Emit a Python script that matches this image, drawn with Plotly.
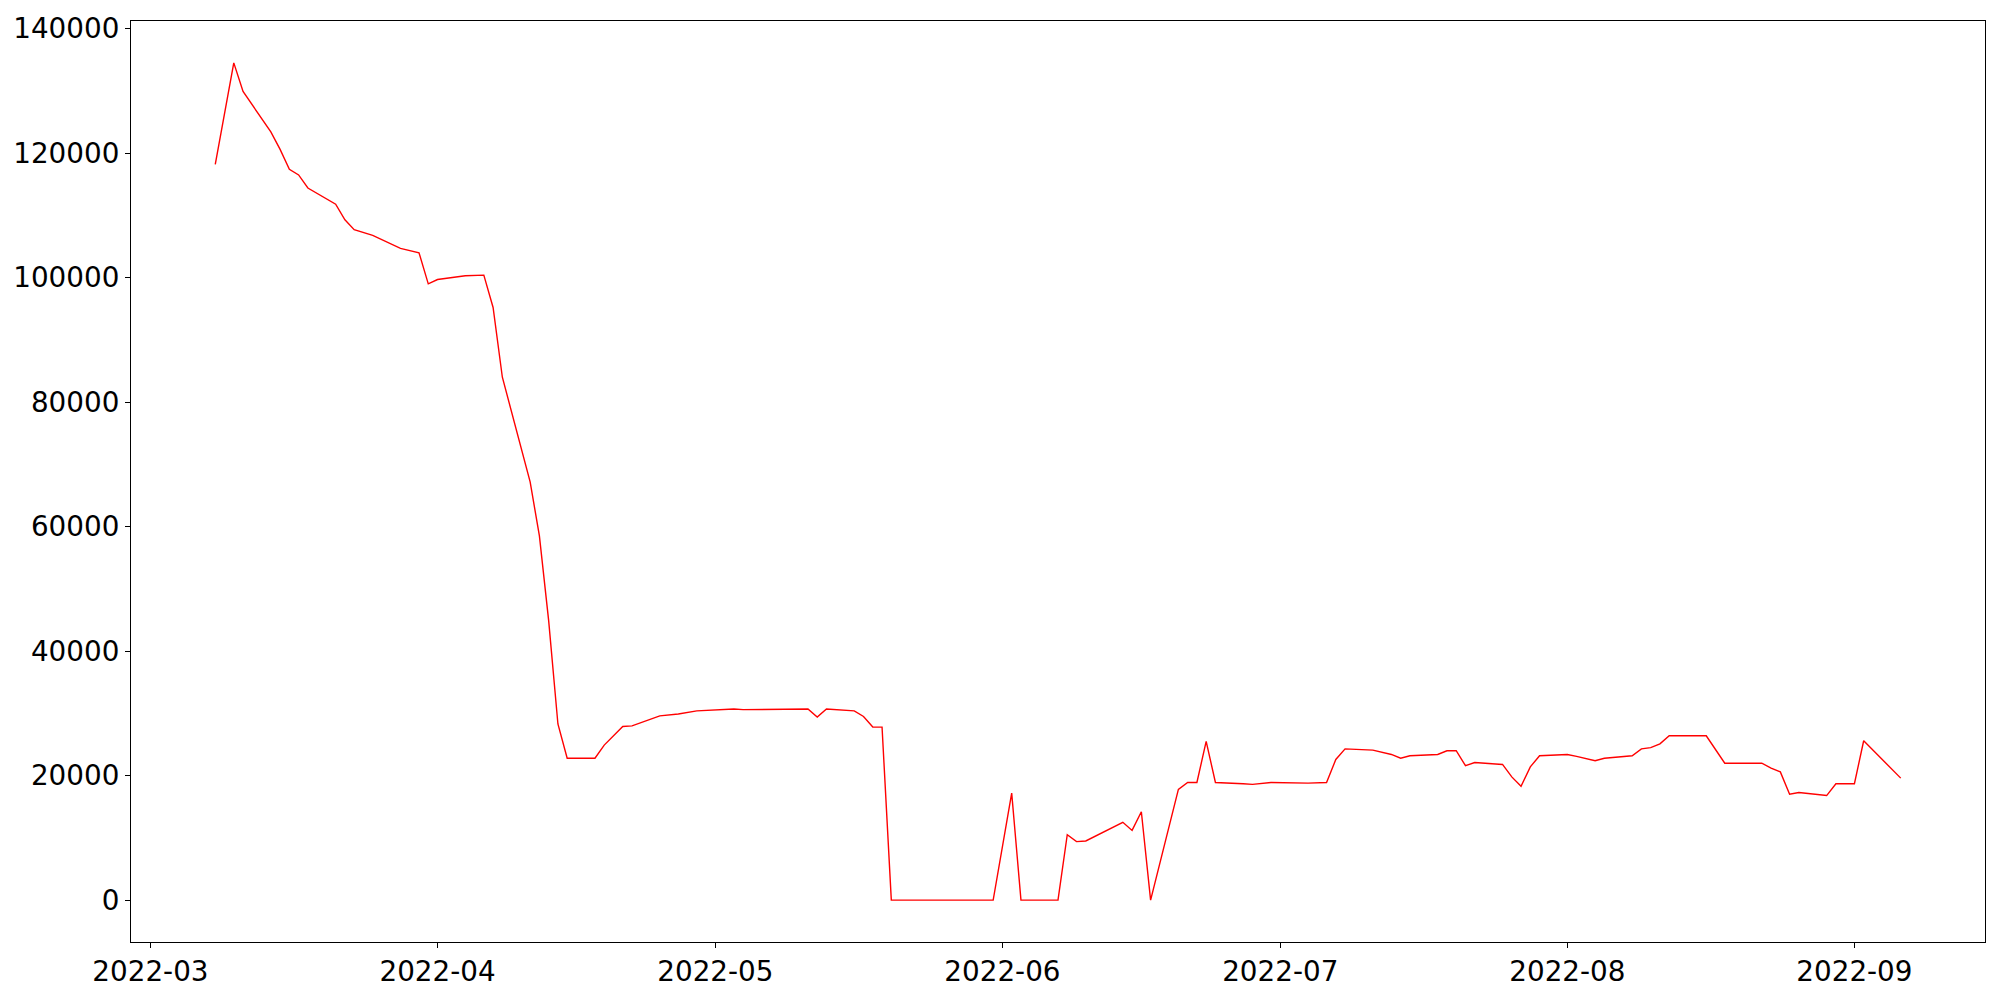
import pandas as pd
import plotly.graph_objects as go

dates = [
    "2022-03-08", "2022-03-10", "2022-03-11", "2022-03-14", "2022-03-15", "2022-03-16",
    "2022-03-17", "2022-03-18", "2022-03-21", "2022-03-22", "2022-03-23", "2022-03-25",
    "2022-03-28", "2022-03-30", "2022-03-31", "2022-04-01", "2022-04-04", "2022-04-06",
    "2022-04-07", "2022-04-08", "2022-04-11", "2022-04-12", "2022-04-13", "2022-04-14",
    "2022-04-15", "2022-04-18", "2022-04-19", "2022-04-21", "2022-04-22", "2022-04-25",
    "2022-04-27", "2022-04-29", "2022-05-03", "2022-05-04", "2022-05-11", "2022-05-12",
    "2022-05-13", "2022-05-16", "2022-05-17", "2022-05-18", "2022-05-19", "2022-05-20",
    "2022-05-31", "2022-06-02", "2022-06-03", "2022-06-07", "2022-06-08", "2022-06-09",
    "2022-06-10", "2022-06-13", "2022-06-14", "2022-06-15", "2022-06-16", "2022-06-17",
    "2022-06-20", "2022-06-21", "2022-06-22", "2022-06-23", "2022-06-24", "2022-06-27",
    "2022-06-28", "2022-06-30", "2022-07-04", "2022-07-06", "2022-07-07", "2022-07-08",
    "2022-07-11", "2022-07-13", "2022-07-14", "2022-07-15", "2022-07-18", "2022-07-19",
    "2022-07-20", "2022-07-21", "2022-07-22", "2022-07-25", "2022-07-26", "2022-07-27",
    "2022-07-28", "2022-07-29", "2022-08-01", "2022-08-02", "2022-08-03", "2022-08-04",
    "2022-08-05", "2022-08-08", "2022-08-09", "2022-08-10", "2022-08-11", "2022-08-12",
    "2022-08-16", "2022-08-18", "2022-08-22", "2022-08-23", "2022-08-24", "2022-08-25",
    "2022-08-26", "2022-08-29", "2022-08-30", "2022-09-01", "2022-09-02", "2022-09-06",
]

values = [
    118200, 134500, 129900, 123400, 120600, 117400,
    116500, 114400, 111800, 109300, 107700, 106800,
    104700, 104000, 99000, 99700, 100300, 100400,
    95200, 84000, 67200, 58500, 44900, 28300,
    22800, 22800, 24900, 27900, 28000, 29600,
    29900, 30400, 30700, 30600, 30700, 29400,
    30700, 30400, 29500, 27800, 27800, 0,
    0, 17200, 0, 0, 10500, 9400,
    9500, 11800, 12500, 11200, 14200, 0,
    17800, 18900, 18900, 25500, 18900, 18700,
    18600, 18900, 18800, 18900, 22600, 24300,
    24100, 23400, 22800, 23200, 23400, 24000,
    24000, 21600, 22100, 21800, 19800, 18300,
    21400, 23200, 23400, 23100, 22700, 22400,
    22800, 23200, 24300, 24500, 25100, 26400,
    26400, 22000, 22000, 21200, 20600, 17000,
    17300, 16800, 18700, 18700, 25600, 19600,
]

x_tick_dates = ["2022-03-01", "2022-04-01", "2022-05-01", "2022-06-01",
                "2022-07-01", "2022-08-01", "2022-09-01"]
x_tick_labels = ["2022-03", "2022-04", "2022-05", "2022-06", "2022-07", "2022-08", "2022-09"]
y_tick_vals = [0, 20000, 40000, 60000, 80000, 100000, 120000, 140000]
y_tick_labels = ["0", "20000", "40000", "60000", "80000", "100000", "120000", "140000"]

dt = pd.to_datetime(dates)
span = dt.max() - dt.min()
x_range = [dt.min() - 0.05 * span, dt.max() + 0.05 * span]
vmin, vmax = min(values), max(values)
vspan = vmax - vmin
y_range = [vmin - 0.05 * vspan, vmax + 0.05 * vspan]

fig = go.Figure()
fig.add_trace(go.Scatter(x=dt, y=values, mode="lines",
                         line=dict(color="red", width=1.4), showlegend=False))

font_size = 27.8
axis_common = dict(showline=True, mirror=True, linecolor="black", linewidth=1.1,
                   ticks="outside", ticklen=5, tickwidth=1.1, tickcolor="black",
                   showgrid=False, zeroline=False,
                   tickfont=dict(family="DejaVu Sans", size=font_size, color="black"))

fig.update_layout(
    width=2000, height=1000,
    margin=dict(l=131, r=15, t=19, b=52),
    paper_bgcolor="white", plot_bgcolor="white",
    font=dict(family="DejaVu Sans", size=font_size, color="black"),
    xaxis=dict(range=x_range, tickvals=pd.to_datetime(x_tick_dates), ticktext=x_tick_labels,
               **axis_common),
    yaxis=dict(range=y_range, tickvals=y_tick_vals, ticktext=y_tick_labels, **axis_common),
)

fig.write_html("out.html", config={"displayModeBar": False},
               post_script=("document.documentElement.style.margin='0';"
                            "document.documentElement.style.overflow='hidden';"
                            "document.body.style.margin='0';"
                            "document.body.style.overflow='hidden';"))
